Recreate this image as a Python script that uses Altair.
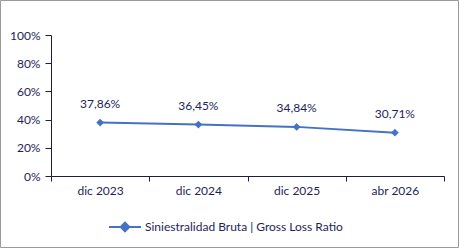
import altair as alt
import pandas as pd

# Series: gross loss ratio by closing period
periodos = ["dic 2023", "dic 2024", "dic 2025", "abr 2026"]
ratio = [37.86, 36.45, 34.84, 30.71]
serie = "Siniestralidad Bruta | Gross Loss Ratio"
y_ticks = [0, 0.2, 0.4, 0.6, 0.8, 1.0]

TEXT = "#1e1e5a"
AXIS = "#1c1c44"
BLUE = "#4472C4"
FONT = "Lato"

df = pd.DataFrame({
    "periodo": periodos,
    "valor": [v / 100 for v in ratio],
    "serie": serie,
})
df["etiqueta"] = [f"{v:.2f}".replace(".", ",") + "%" for v in ratio]

W, H = 393, 141
PAD = {"left": 51, "top": 35, "right": 16, "bottom": 73}

x = alt.X(
    "periodo:N",
    sort=periodos,
    scale=alt.Scale(type="band", paddingInner=0, paddingOuter=0),
    axis=alt.Axis(
        title=None, labelAngle=0, tickBand="extent", tickSize=5,
        labelPadding=4, domainColor=AXIS, tickColor=AXIS,
        labelColor=TEXT, labelFont=FONT, labelFontSize=12, grid=False,
    ),
)
y = alt.Y(
    "valor:Q",
    scale=alt.Scale(domain=[0, 1], nice=False),
    axis=alt.Axis(
        title=None, values=y_ticks, format=".0%", tickSize=6,
        labelPadding=5, domainColor=AXIS, tickColor=AXIS,
        labelColor=TEXT, labelFont=FONT, labelFontSize=12, grid=False,
    ),
)

# line + diamond legend symbol drawn as a custom path
legend_symbol = "M-1,0H1M-0.27,0L0,-0.27L0.27,0L0,0.27Z"

base = alt.Chart(df)

line = base.mark_line(
    strokeWidth=2,
    point=alt.OverlayMarkDef(shape="diamond", size=60, filled=True, color=BLUE),
).encode(
    x=x,
    y=y,
    color=alt.Color(
        "serie:N",
        scale=alt.Scale(range=[BLUE]),
        legend=alt.Legend(
            title=None, orient="none", legendX=57, legendY=175,
            symbolType=legend_symbol, symbolSize=1024,
            symbolStrokeWidth=2, symbolFillColor=BLUE, symbolStrokeColor=BLUE,
            labelColor=TEXT, labelFont=FONT, labelFontSize=12,
            labelOffset=3, labelLimit=0,
        ),
    ),
)

labels = base.mark_text(
    dy=-19, font=FONT, fontSize=12, color=TEXT, baseline="middle"
).encode(x=x, y=y, text="etiqueta:N")

frame = alt.Chart(pd.DataFrame({"k": [0]})).mark_rect(
    fill=None, stroke="#9a9a9a", strokeWidth=1, clip=False
).encode(
    x=alt.value(-50.5), x2=alt.value(W + 14.5),
    y=alt.value(-34.5), y2=alt.value(H + 71.5),
)

chart = alt.layer(frame, line, labels).properties(
    width=W, height=H, padding=PAD, autosize=alt.AutoSizeParams(type="none"),
    background="white",
).configure_view(stroke=None)

chart.save("out.html", embed_options={"renderer": "svg", "actions": False})
